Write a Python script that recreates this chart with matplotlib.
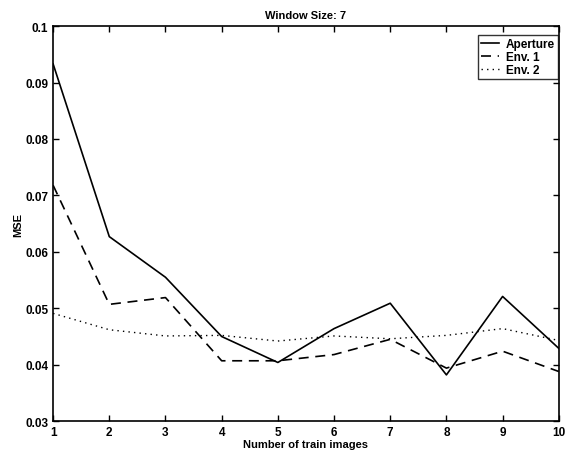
import matplotlib
matplotlib.use("Agg")
import matplotlib.pyplot as plt

plt.rcParams['font.family'] = ['Liberation Sans', 'DejaVu Sans']
plt.rcParams['font.weight'] = 'bold'

# number of train images
train_images = [1, 2, 3, 4, 5, 6, 7, 8, 9, 10]
# MSE values
aperture = [0.0933, 0.0627, 0.0555, 0.0450, 0.0404, 0.0464, 0.0509, 0.0382, 0.0521, 0.0429]
env1 = [0.0718, 0.0507, 0.0519, 0.0407, 0.0407, 0.0418, 0.0445, 0.0394, 0.0424, 0.0388]
env2 = [0.0491, 0.0462, 0.0451, 0.0452, 0.0442, 0.0451, 0.0446, 0.0452, 0.0464, 0.0443]

fig = plt.figure(figsize=(5.65, 4.52), dpi=100)
ax = fig.add_axes([0.094, 0.066, 0.895, 0.874])

ax.plot(train_images, aperture, color='black', linestyle='-', linewidth=1.2, label='Aperture')
ax.plot(train_images, env1, color='black', linestyle=(0, (6, 4)), linewidth=1.2, label='Env. 1')
ax.plot(train_images, env2, color='black', linestyle=(0, (1, 3)), linewidth=1.0, label='Env. 2')

ax.set_xlim(1, 10)
ax.set_ylim(0.03, 0.1)
ax.set_xticks(train_images)
ax.set_yticks([0.03, 0.04, 0.05, 0.06, 0.07, 0.08, 0.09, 0.1])
ax.set_yticklabels(['0.03', '0.04', '0.05', '0.06', '0.07', '0.08', '0.09', '0.1'])
ax.tick_params(direction='in', length=4, labelsize=8.5, top=True, right=True, width=1)
for s in ax.spines.values():
    s.set_linewidth(1.2)

ax.set_title('Window Size: 7', fontsize=8, fontweight='bold', pad=6)
ax.set_xlabel('Number of train images', fontsize=8, fontweight='bold', labelpad=1)
ax.set_ylabel('MSE', fontsize=8, fontweight='bold', labelpad=1)

leg = ax.legend(loc='upper right', bbox_to_anchor=(0.998, 0.978), fontsize=8.5, frameon=True,
                fancybox=False, handlelength=1.5, handletextpad=0.6, borderpad=0.25,
                labelspacing=0.1, borderaxespad=0.0)
leg.get_frame().set_edgecolor('black')
leg.get_frame().set_linewidth(1.0)

fig.savefig('out.png', dpi=100)
